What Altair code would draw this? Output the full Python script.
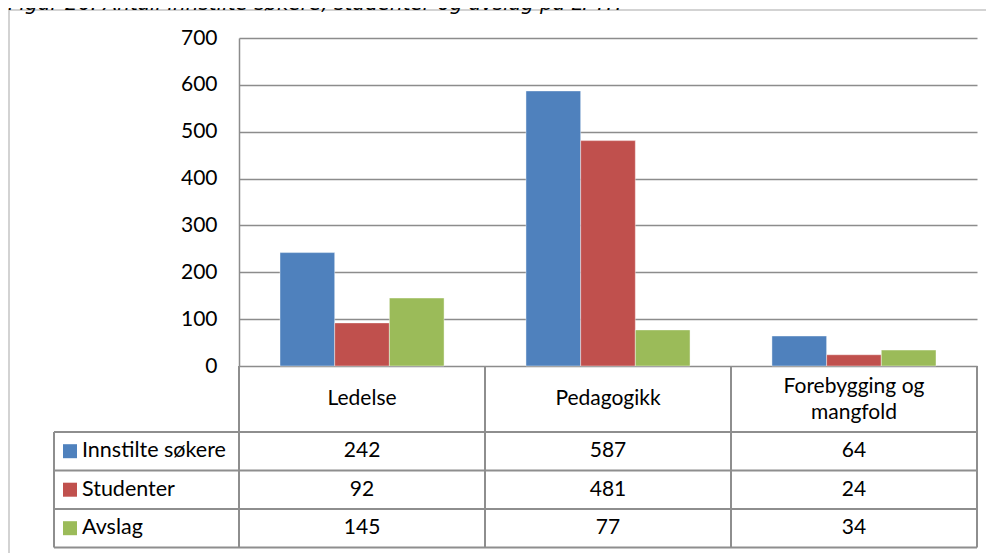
import altair as alt
import pandas as pd

# ---- data ----
categories = ["Ledelse", "Pedagogikk", "Forebygging og mangfold"]
series = ["Innstilte søkere", "Studenter", "Avslag"]
innstilte = [242, 587, 64]
studenter = [92, 481, 24]
avslag = [145, 77, 34]
y_ticks = [0, 100, 200, 300, 400, 500, 600, 700]
title_text = "Figur 26: Antall innstilte søkere, studenter og avslag på LPTH"

colors = ["#4F81BD", "#C0504D", "#9BBB59"]
values_by_series = [innstilte, studenter, avslag]

rows = []
for s, vals in zip(series, values_by_series):
    for c, v in zip(categories, vals):
        rows.append({"category": c, "series": s, "value": v})
df = pd.DataFrame(rows)

# ---- layout constants (pixels relative to plot area) ----
W, H = 738, 328
FONT = "Lato"
FS = 21
GRID = "#8C8C8C"
TABLE = "#8E8E8E"
FRAME = "#C4C4C4"
row_edges = [394, 432.5, 471, 509.5]
row_centers = [413.2, 451.7, 490.2]
legend_left = -185
col_edges = [0, 246, 492, 738]

x_enc = alt.X("category:N", sort=categories,
              scale=alt.Scale(paddingInner=0.333, paddingOuter=0.1667), axis=None)
color_enc = alt.Color("series:N", sort=series,
                      scale=alt.Scale(domain=series, range=colors), legend=None)

bars = alt.Chart(df).mark_bar(stroke="#ffffff", strokeWidth=0.6, strokeOpacity=0.7).encode(
    x=x_enc,
    xOffset=alt.XOffset("series:N", sort=series,
                        scale=alt.Scale(paddingInner=0, paddingOuter=0)),
    y=alt.Y("value:Q", scale=alt.Scale(domain=[0, 700], nice=False),
            axis=alt.Axis(values=y_ticks, title=None, grid=True, gridColor=GRID,
                          gridWidth=1.5, domainColor=GRID, domainWidth=1.5,
                          ticks=False, labelPadding=22, labelFont=FONT,
                          labelFontSize=FS, labelColor="#000000")),
    color=color_enc,
)

layers = [bars]

# category labels (table header)
cat_df = pd.DataFrame({"category": categories})
cat_single = alt.Chart(cat_df).transform_filter(
    "indexof(datum.category, ' og ') < 0"
).mark_text(font=FONT, fontSize=FS, color="#000000",
            baseline="middle", align="center").encode(
    x=x_enc, y=alt.value(361), text="category:N")
cat_multi = alt.Chart(cat_df).transform_filter(
    "indexof(datum.category, ' og ') >= 0"
).transform_calculate(
    label="replace(datum.category, ' og ', ' og\\n')"
).mark_text(font=FONT, fontSize=FS, color="#000000", lineBreak="\n",
            lineHeight=26, baseline="middle", align="center").encode(
    x=x_enc, y=alt.value(348.5), text="label:N")
layers += [cat_single, cat_multi]

# table rows
for i, (s, vals) in enumerate(zip(series, values_by_series)):
    sdf = pd.DataFrame({"category": categories, "series": [s] * len(categories), "value": vals})
    layers.append(alt.Chart(sdf).mark_text(font=FONT, fontSize=FS, color="#000000",
                                           baseline="middle", align="center").encode(
        x=x_enc, y=alt.value(row_centers[i]), text="value:Q"))
    ldf = pd.DataFrame({"series": [s]})
    layers.append(alt.Chart(ldf).mark_square(size=196, opacity=1).encode(
        x=alt.value(-169), y=alt.value(row_centers[i]), color=color_enc))
    layers.append(alt.Chart(ldf).mark_text(font=FONT, fontSize=21.5, color="#000000",
                                           baseline="middle", align="left").encode(
        x=alt.value(-157), y=alt.value(row_centers[i]), text="series:N"))

# table lines
line_src = pd.DataFrame({"k": [0]})
for xe in col_edges:
    layers.append(alt.Chart(line_src).mark_rule(color=TABLE, strokeWidth=2).encode(
        x=alt.value(xe), y=alt.value(H), y2=alt.value(row_edges[-1])))
layers.append(alt.Chart(line_src).mark_rule(color=TABLE, strokeWidth=2).encode(
    x=alt.value(legend_left), y=alt.value(row_edges[0]), y2=alt.value(row_edges[-1])))
for ye in row_edges:
    layers.append(alt.Chart(line_src).mark_rule(color=TABLE, strokeWidth=2).encode(
        x=alt.value(legend_left), x2=alt.value(W), y=alt.value(ye)))

# outer frame (partially visible)
layers.append(alt.Chart(line_src).mark_rule(color=FRAME, strokeWidth=1.5).encode(
    x=alt.value(-230), x2=alt.value(760), y=alt.value(-28)))
layers.append(alt.Chart(line_src).mark_rule(color=FRAME, strokeWidth=1.5).encode(
    x=alt.value(-230), y=alt.value(-28), y2=alt.value(530)))

# title (cut off at top, as in the reference)
title_df = pd.DataFrame({"t": [title_text]})
layers.append(alt.Chart(title_df).mark_text(font="DejaVu Sans", fontStyle="italic",
                                            fontSize=20, color="#000000",
                                            align="left", baseline="alphabetic").encode(
    x=alt.value(-231), y=alt.value(-28), text="t:N"))

chart = alt.layer(*layers).properties(
    width=W, height=H,
    autosize=alt.AutoSizeParams(type="none"),
    padding={"left": 231, "top": 30, "right": 9, "bottom": 187},
    background="#ffffff",
).configure_view(stroke=None)

chart.save("out.html", embed_options={"renderer": "svg", "actions": False})
